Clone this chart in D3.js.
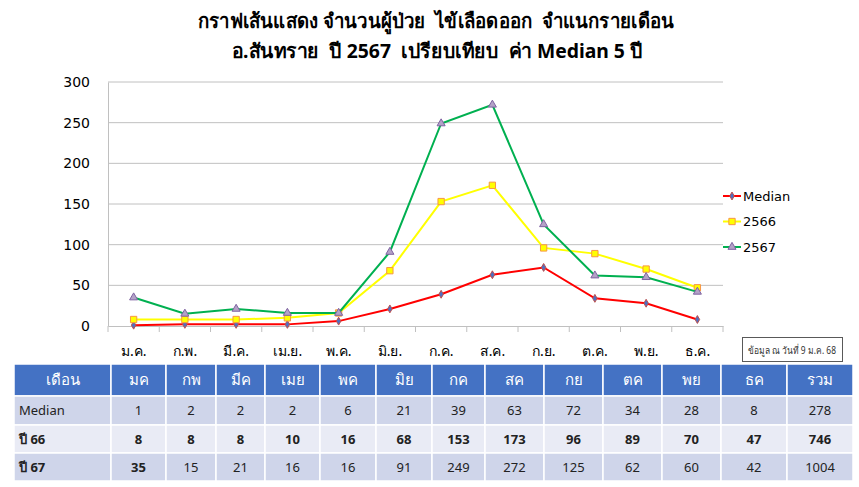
<!DOCTYPE html>
<html>
<head>
<meta charset="utf-8">
<script src="https://cdn.jsdelivr.net/npm/d3@7"></script>
<style>
  body { margin: 0; background: #fff; }
  svg { display: block; }
</style>
</head>
<body>
<div id="chart"></div>
<script>
// data
var months = ["ม.ค.", "ก.พ.", "มี.ค.", "เม.ย.", "พ.ค.", "มิ.ย.", "ก.ค.", "ส.ค.", "ก.ย.", "ต.ค.", "พ.ย.", "ธ.ค."];
var tableMonths = ["มค", "กพ", "มีค", "เมย", "พค", "มิย", "กค", "สค", "กย", "ตค", "พย", "ธค"];
var median = [1, 2, 2, 2, 6, 21, 39, 63, 72, 34, 28, 8];
var y2566 = [8, 8, 8, 10, 16, 68, 153, 173, 96, 89, 70, 47];
var y2567 = [35, 15, 21, 16, 16, 91, 249, 272, 125, 62, 60, 42];
var yTicks = [0, 50, 100, 150, 200, 250, 300];
var seriesNames = ["Median", "2566", "2567"];
var rowLabels = ["Median", "ปี 66", "ปี 67"];

var W = 859, H = 487;
var thai = "Tahoma, 'Noto Sans', 'DejaVu Sans', sans-serif";

var svg = d3.select("#chart").append("svg")
  .attr("width", W).attr("height", H);

// title (two lines, double spaces kept)
svg.append("text")
  .attr("x", 436).attr("y", 28)
  .attr("text-anchor", "middle")
  .attr("textLength", 476).attr("lengthAdjust", "spacingAndGlyphs")
  .style("white-space", "pre")
  .style("font-family", thai).style("font-weight", "bold").style("font-size", "20px")
  .text("กราฟเส้นแสดง จำนวนผู้ป่วย  ไข้เลือดออก  จำแนกรายเดือน");
svg.append("text")
  .attr("x", 437).attr("y", 58)
  .attr("text-anchor", "middle")
  .attr("textLength", 411).attr("lengthAdjust", "spacingAndGlyphs")
  .style("white-space", "pre")
  .style("font-family", thai).style("font-weight", "bold").style("font-size", "20px")
  .text("อ.สันทราย  ปี 2567  เปรียบเทียบ  ค่า Median 5 ปี");

// scales
var x = d3.scaleBand().domain(months).range([108, 723]);
var y = d3.scaleLinear().domain([0, 300]).range([326, 82]);

// gridlines
svg.append("g")
  .selectAll("line")
  .data(yTicks.filter(d => d > 0))
  .join("line")
  .attr("x1", 108).attr("x2", 723)
  .attr("y1", d => y(d)).attr("y2", d => y(d))
  .attr("stroke", "#c0c0c0").attr("stroke-width", 1);

// y axis
var yAxis = svg.append("g")
  .attr("transform", "translate(108,0)")
  .call(d3.axisLeft(y).tickValues(yTicks).tickSize(0).tickPadding(18));
yAxis.select(".domain").attr("stroke", "#c0c0c0");
yAxis.selectAll("text")
  .style("font-family", "Tahoma, 'DejaVu Sans', sans-serif")
  .style("font-size", "14px").attr("fill", "#000");

// x axis
var xAxis = svg.append("g")
  .attr("transform", "translate(0," + y(0) + ")")
  .call(d3.axisBottom(x).tickSize(0).tickPadding(20));
xAxis.select(".domain").attr("stroke", "#c0c0c0");
xAxis.selectAll("text")
  .style("font-family", thai)
  .style("font-size", "14px").attr("fill", "#000");
// tick marks on band boundaries
svg.append("g")
  .selectAll("line")
  .data(months.concat(["end"]))
  .join("line")
  .attr("x1", (d, i) => 108 + i * x.bandwidth())
  .attr("x2", (d, i) => 108 + i * x.bandwidth())
  .attr("y1", y(0)).attr("y2", y(0) + 6)
  .attr("stroke", "#c0c0c0");

// series
var series = [
  { name: seriesNames[0], values: median, line: "#ff0000", fill: "#4f6fc0", stroke: "#c0504d", shape: d3.symbolDiamond, size: 18 },
  { name: seriesNames[1], values: y2566, line: "#ffff00", fill: "#ffff00", stroke: "#f79646", shape: d3.symbolSquare, size: 40 },
  { name: seriesNames[2], values: y2567, line: "#00b050", fill: "#b3a2c7", stroke: "#7f63a2", shape: d3.symbolTriangle, size: 28 }
];

var line = d3.line()
  .x((d, i) => x(months[i]) + x.bandwidth() / 2)
  .y(d => y(d));

series.forEach(function(s) {
  svg.append("path")
    .datum(s.values)
    .attr("fill", "none")
    .attr("stroke", s.line)
    .attr("stroke-width", 2)
    .attr("d", line);
  svg.append("g")
    .selectAll("path")
    .data(s.values)
    .join("path")
    .attr("transform", (d, i) => "translate(" + (x(months[i]) + x.bandwidth() / 2) + "," + y(d) + ")")
    .attr("d", d3.symbol().type(s.shape).size(s.size))
    .attr("fill", s.fill)
    .attr("stroke", s.stroke)
    .attr("stroke-width", 1);
});

// legend
var legend = svg.append("g");
series.forEach(function(s, i) {
  var ly = 196 + i * 25.5;
  legend.append("line")
    .attr("x1", 723).attr("x2", 741)
    .attr("y1", ly).attr("y2", ly)
    .attr("stroke", s.line).attr("stroke-width", 2);
  legend.append("path")
    .attr("transform", "translate(732," + ly + ")")
    .attr("d", d3.symbol().type(s.shape).size(s.size))
    .attr("fill", s.fill).attr("stroke", s.stroke);
  legend.append("text")
    .attr("x", 743).attr("y", ly)
    .attr("dy", "0.35em")
    .style("font-family", "Tahoma, 'DejaVu Sans', sans-serif")
    .style("font-size", "13px")
    .text(s.name);
});

// note box
svg.append("rect")
  .attr("x", 742.5).attr("y", 337.5)
  .attr("width", 100).attr("height", 24)
  .attr("fill", "#fff").attr("stroke", "#595959");
svg.append("text")
  .attr("x", 792).attr("y", 350)
  .attr("dy", "0.35em")
  .attr("text-anchor", "middle")
  .attr("textLength", 88).attr("lengthAdjust", "spacingAndGlyphs")
  .style("font-family", thai).style("font-size", "10px").attr("fill", "#333")
  .text("ข้อมูล ณ วันที่ 9 ม.ค. 68");

// table
var colEdges = [14, 111, 166, 216, 265, 320, 376, 432, 485, 544, 603, 662, 721, 787, 853];
var rowEdges = [364, 396, 425, 453, 481];
var headers = ["เดือน"].concat(tableMonths, ["รวม"]);
var rows = [median, y2566, y2567].map(function(v, i) {
  return [rowLabels[i]].concat(v, [d3.sum(v)]);
});
var rowFill = ["#cfd5ea", "#e9ebf5", "#cfd5ea"];

var table = svg.append("g");
headers.forEach(function(h, c) {
  table.append("rect")
    .attr("x", colEdges[c]).attr("y", rowEdges[0])
    .attr("width", colEdges[c + 1] - colEdges[c])
    .attr("height", rowEdges[1] - rowEdges[0])
    .attr("fill", "#4472c4").attr("stroke", "#fff").attr("stroke-width", 1.5);
  table.append("text")
    .attr("x", (colEdges[c] + colEdges[c + 1]) / 2)
    .attr("y", (rowEdges[0] + rowEdges[1]) / 2)
    .attr("dy", "0.35em").attr("text-anchor", "middle")
    .style("font-family", thai).style("font-size", "15px")
    .attr("fill", "#fff")
    .text(h);
});
rows.forEach(function(r, ri) {
  r.forEach(function(v, c) {
    table.append("rect")
      .attr("x", colEdges[c]).attr("y", rowEdges[ri + 1])
      .attr("width", colEdges[c + 1] - colEdges[c])
      .attr("height", rowEdges[ri + 2] - rowEdges[ri + 1])
      .attr("fill", rowFill[ri]).attr("stroke", "#fff").attr("stroke-width", 1.5);
    var bold = (ri === 1) || (ri === 2 && c <= 1);
    table.append("text")
      .attr("x", c === 0 ? colEdges[0] + 5 : (colEdges[c] + colEdges[c + 1]) / 2)
      .attr("y", (rowEdges[ri + 1] + rowEdges[ri + 2]) / 2)
      .attr("dy", "0.35em")
      .attr("text-anchor", c === 0 ? "start" : "middle")
      .style("font-family", thai)
      .style("font-size", "13px")
      .style("font-weight", bold ? "bold" : "normal")
      .attr("fill", "#222")
      .text(v);
  });
});
</script>
</body>
</html>
